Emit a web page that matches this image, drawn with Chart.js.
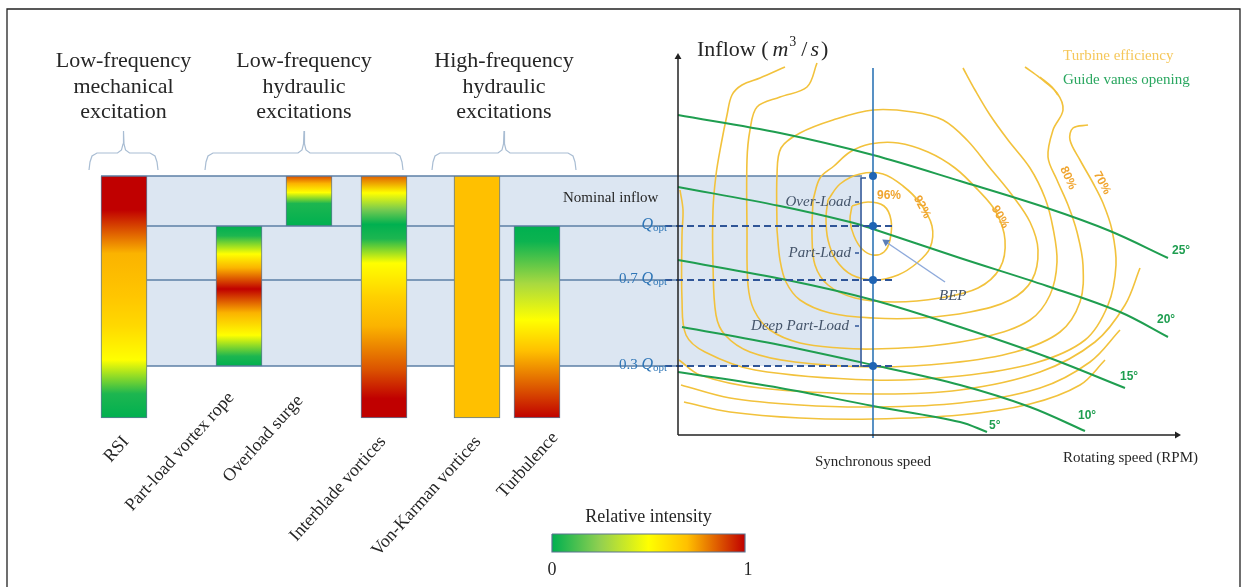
<!DOCTYPE html>
<html>
<head>
<meta charset="utf-8">
<script src="https://cdn.jsdelivr.net/npm/chart.js@4.4.1/dist/chart.umd.min.js"></script>
<style>
  html, body { margin: 0; padding: 0; background: #fff; }
  canvas { display: block; }
</style>
</head>
<body>
<canvas id="chart" width="1247" height="587"></canvas>
<script>
// ---- data (chart units follow the drawing's own layout) ----
const categories = ['RSI', 'Part-load vortex rope', 'Overload surge', 'Interblade vortices', 'Von-Karman vortices', 'Turbulence'];
const barCenter = [124, 239, 309, 384, 477, 537];
const barTop = [176, 226, 176, 176, 176, 226];
const barBottom = [418, 366, 226, 418, 418, 418];
// relative intensity along each bar, from top to bottom: [position, intensity]
const barIntensity = [
  [[0, 1], [0.14, 1], [0.32, 0.72], [0.5, 0.68], [0.62, 0.62], [0.76, 0.5], [0.9, 0.05], [1, 0]],
  [[0, 0], [0.07, 0.05], [0.2, 0.5], [0.3, 0.72], [0.45, 1], [0.62, 0.72], [0.78, 0.5], [0.93, 0.05], [1, 0]],
  [[0, 0.88], [0.15, 0.72], [0.33, 0.5], [0.55, 0.05], [1, 0]],
  [[0, 0.85], [0.07, 0.5], [0.14, 0.2], [0.2, 0], [0.26, 0.05], [0.36, 0.5], [0.5, 0.65], [0.62, 0.72], [0.8, 0.87], [0.92, 1], [1, 1]],
  [[0, 0.7], [1, 0.7]],
  [[0, 0], [0.08, 0.02], [0.3, 0.3], [0.49, 0.5], [0.65, 0.7], [0.85, 0.87], [1, 1]]
];

// inflow levels: nominal, Qopt, 0.7 Qopt, 0.3 Qopt
const flowLevels = [176, 226, 280, 366];
const syncSpeed = 873;
const zoneNames = ['Over-Load', 'Part-Load', 'Deep Part-Load'];

// guide vane opening curves
const gvLabels = ['25°', '20°', '15°', '10°', '5°'];
const gv25 = [[678, 115], [780, 133], [873, 155], [960, 181], [1047, 208], [1110, 231], [1168, 258]];
const gv20 = [[678, 187], [780, 206], [850, 222], [873, 229], [960, 258], [1047, 286], [1120, 312], [1168, 337]];
const gv15 = [[678, 260], [787, 280], [873, 300], [960, 327], [1047, 357], [1125, 388]];
const gv10 = [[682, 327], [780, 345], [873, 365], [960, 385], [1030, 407], [1085, 431]];
const gv5 = [[678, 372], [780, 388], [873, 406], [960, 422], [987, 432]];

// turbine efficiency contours
const effLabels = ['96%', '92%', '90%', '80%', '70%'];
const eff96 = [[852, 206], [868, 202], [884, 206], [891, 220], [890, 240], [884, 252], [873, 255], [862, 249], [854, 236], [850, 220], [852, 206]];
const eff92 = [[828, 200], [840, 184], [860, 174], [883, 174], [903, 186], [920, 203], [932, 226], [930, 248], [917, 263], [898, 275], [875, 280], [852, 275], [836, 260], [828, 240], [826, 218], [828, 200]];
const eff91 = [[813, 200], [820, 178], [834, 166], [850, 152], [870, 144], [898, 143], [928, 152], [955, 168], [978, 190], [996, 212], [1005, 240], [1000, 268], [978, 288], [940, 298], [895, 302], [855, 298], [828, 285], [815, 265], [812, 235], [813, 200]];
const eff90 = [[777, 230], [777, 175], [781, 148], [800, 133], [833, 120], [873, 110], [913, 112], [943, 120], [967, 140], [990, 168], [1012, 195], [1030, 222], [1038, 250], [1032, 280], [1010, 300], [970, 312], [920, 318], [873, 318], [830, 313], [800, 300], [786, 282], [780, 260], [777, 230]];
const eff85 = [[817, 63], [807, 87], [780, 97], [757, 107], [750, 130], [747, 160], [747, 230], [748, 285], [754, 310], [770, 330], [800, 343], [840, 348], [873, 349], [930, 346], [985, 337], [1030, 320], [1050, 295], [1057, 262], [1053, 228], [1045, 198], [1030, 168], [1008, 140], [990, 115], [975, 90], [963, 68]];
const eff80 = [[785, 67], [760, 78], [742, 85], [732, 95], [727, 115], [721, 145], [716, 175], [713, 210], [713, 265], [716, 315], [725, 335], [750, 352], [795, 362], [873, 367], [950, 363], [1015, 352], [1060, 332], [1080, 302], [1083, 265], [1077, 232], [1068, 205], [1057, 180], [1048, 157], [1053, 130], [1063, 110], [1057, 93], [1040, 78], [1025, 67]];
const eff80b = [[1040, 77], [1052, 87], [1058, 95]];
const eff70 = [[680, 190], [683, 210], [682, 235], [682, 300], [686, 335], [705, 352], [755, 370], [873, 380], [960, 376], [1035, 363], [1085, 340], [1108, 305], [1116, 265], [1112, 230], [1103, 203], [1093, 183], [1080, 160], [1070, 140], [1073, 128], [1088, 125]];
const eff60 = [[679, 360], [700, 375], [760, 388], [873, 394], [960, 390], [1040, 372], [1095, 342], [1125, 305], [1140, 268]];
const eff50 = [[681, 385], [730, 398], [800, 405], [873, 407], [960, 403], [1040, 388], [1090, 362], [1120, 330]];
const eff40 = [[684, 402], [730, 412], [800, 418], [873, 419], [960, 415], [1030, 404], [1080, 385], [1105, 360]];

// colour scale for relative intensity 0..1
const scaleStops = [[0, [0, 176, 80]], [0.25, [146, 208, 80]], [0.5, [255, 255, 0]], [0.7, [255, 192, 0]], [1, [192, 0, 0]]];

// ---- helpers ----
const serif = '"Liberation Serif", "Times New Roman", serif';
const sans = '"Liberation Sans", Arial, sans-serif';
const yellowLine = '#f2c23c';
const greenLine = '#1f9e50';
const blueLine = '#2e75b6';
const darkBlue = '#2f5597';

function intensityColor(v) {
  for (let i = 1; i < scaleStops.length; i++) {
    const [p1, c1] = scaleStops[i];
    const [p0, c0] = scaleStops[i - 1];
    if (v <= p1) {
      const t = (v - p0) / (p1 - p0);
      const c = c0.map((a, k) => Math.round(a + (c1[k] - a) * t));
      return 'rgb(' + c.join(',') + ')';
    }
  }
  return 'rgb(192,0,0)';
}

const pts = arr => arr.map(([x, y]) => ({ x, y }));

function lineSet(data, color, width, extra) {
  return Object.assign({
    type: 'line', data: pts(data), borderColor: color, borderWidth: width,
    pointRadius: 0, tension: 0.35, fill: false, order: 6
  }, extra || {});
}

function bracePoints(x0, x1, yTip, yMid, yEnd) {
  const c = (x0 + x1) / 2;
  return [[x0, yEnd], [x0 + 1, yEnd - 8], [x0 + 3, yMid + 3], [x0 + 8, yMid], [c - 6, yMid], [c - 2, yMid - 3], [c - 0.5, yMid - 9], [c, yTip],
          [c + 0.5, yMid - 9], [c + 2, yMid - 3], [c + 6, yMid], [x1 - 8, yMid], [x1 - 3, yMid + 3], [x1 - 1, yEnd - 8], [x1, yEnd]];
}

const headers = [
  { lines: ['Low-frequency', 'mechanical', 'excitation'], from: 89, to: 158 },
  { lines: ['Low-frequency', 'hydraulic', 'excitations'], from: 205, to: 403 },
  { lines: ['High-frequency', 'hydraulic', 'excitations'], from: 432, to: 576 }
];

const bandRight = 862;
const axisX = 678, axisY = 435;

const datasets = [];

// blue band behind the bars
datasets.push(lineSet([[101, flowLevels[0]], [bandRight, flowLevels[0]], [bandRight, flowLevels[3]], [101, flowLevels[3]], [101, flowLevels[0]]],
  'rgba(0,0,0,0)', 0, { fill: 'shape', backgroundColor: '#dce6f2', tension: 0, order: 20 }));
// band lines
datasets.push(lineSet([[101, flowLevels[0]], [bandRight, flowLevels[0]]], '#5d7fa6', 1.5, { tension: 0, order: 19 }));
flowLevels.slice(1).forEach(f => {
  datasets.push(lineSet([[101, f], [axisX, f]], '#5d7fa6', 1.5, { tension: 0, order: 19 }));
});

// efficiency contours
[eff96, eff92, eff91, eff90, eff85, eff80, eff80b, eff70, eff60, eff50, eff40].forEach(c => {
  datasets.push(lineSet(c, yellowLine, 1.6, { order: 15 }));
});

// guide vanes
[gv25, gv20, gv15, gv10, gv5].forEach(g => {
  datasets.push(lineSet(g, greenLine, 2, { order: 12 }));
});

// dashed operating levels
flowLevels.slice(1).forEach(f => {
  datasets.push(lineSet([[665, f], [893, f]], darkBlue, 2, { tension: 0, borderDash: [7, 4], order: 10 }));
});

// operating zone bracket
datasets.push(lineSet([[866, 178], [861, 178], [861, 366], [866, 366]], darkBlue, 1.5, { tension: 0, order: 10 }));
[202, 253, 326].forEach(y => {
  datasets.push(lineSet([[855, y], [859, y]], darkBlue, 1.5, { tension: 0, order: 10 }));
});

// synchronous speed line
datasets.push(lineSet([[syncSpeed, 438], [syncSpeed, 68]], blueLine, 1.6, { tension: 0, order: 9 }));
datasets.push({
  type: 'scatter', data: flowLevels.map(f => ({ x: syncSpeed, y: f })),
  pointRadius: 4, pointBackgroundColor: '#1f64b4', pointBorderWidth: 0, order: 2
});

// BEP arrow
datasets.push(lineSet([[945, 282], [886, 242]], '#8eaadb', 1.5, {
  tension: 0, order: 3, pointRadius: [0, 4.5], pointStyle: 'triangle', pointRotation: [0, -56],
  pointBackgroundColor: '#5b7fb8', pointBorderWidth: 0
}));

// axes with arrow heads
datasets.push(lineSet([[axisX, axisY], [axisX, 57]], '#222', 1.5, {
  tension: 0, order: 4, pointRadius: [0, 4], pointStyle: 'triangle', pointRotation: [0, 0],
  pointBackgroundColor: '#222', pointBorderWidth: 0
}));
datasets.push(lineSet([[axisX, axisY], [1177, axisY]], '#222', 1.5, {
  tension: 0, order: 4, pointRadius: [0, 4], pointStyle: 'triangle', pointRotation: [0, 90],
  pointBackgroundColor: '#222', pointBorderWidth: 0
}));

// braces
headers.forEach(h => {
  datasets.push(lineSet(bracePoints(h.from, h.to, 131, 153, 170), '#a9bdd3', 1.2, { tension: 0, order: 5 }));
});

// gradients only once the scales have pixel positions
function safeGradient(chart, x0, y0, x1, y1) {
  if (![x0, y0, x1, y1].every(Number.isFinite)) return null;
  return chart.ctx.createLinearGradient(x0, y0, x1, y1);
}

// colour bar
const barL = 552, barR = 745;
datasets.push(lineSet([[barL, 534], [barR, 534], [barR, 552], [barL, 552], [barL, 534]], '#5a7590', 1.2, {
  tension: 0, order: 5, fill: 'shape',
  backgroundColor: c => {
    const x = c.chart.scales.x;
    if (!x) return '#ccc';
    const g = safeGradient(c.chart, x.getPixelForValue(barL), 0, x.getPixelForValue(barR), 0);
    if (!g) return '#ccc';
    for (let k = 0; k <= 20; k++) g.addColorStop(k / 20, intensityColor(k / 20));
    return g;
  }
}));

// excitation bars
datasets.push({
  type: 'bar',
  data: categories.map((c, i) => ({ x: barCenter[i], y: [barTop[i], barBottom[i]] })),
  barThickness: 46,
  borderColor: '#5e7a98',
  borderWidth: 1,
  borderSkipped: false,
  order: 8,
  backgroundColor: c => {
    const i = c.dataIndex;
    const y = c.chart.scales.y;
    if (!y || i === undefined) return '#ffc000';
    const g = safeGradient(c.chart, 0, y.getPixelForValue(barTop[i]), 0, y.getPixelForValue(barBottom[i]));
    if (!g) return '#ffc000';
    barIntensity[i].forEach(([p, v]) => g.addColorStop(p, intensityColor(v)));
    return g;
  }
});

// ---- text layer ----
function drawRuns(ctx, parts, x, y, align) {
  let w = 0;
  parts.forEach(p => { ctx.font = p.f; w += ctx.measureText(p.t).width + (p.gap || 0); });
  let cx = align === 'right' ? x - w : align === 'center' ? x - w / 2 : x;
  parts.forEach(p => {
    ctx.font = p.f;
    ctx.fillText(p.t, cx, y + (p.dy || 0));
    cx += ctx.measureText(p.t).width + (p.gap || 0);
  });
}

const labelAnchor = [[126, 439], [231, 395], [300, 398], [383, 439], [478, 439], [555, 435]];
const effLabelPos = [[889, 196, 0], [922, 207, 62], [1000, 217, 60], [1068, 178, 66], [1102, 183, 62]];
const gvLabelPos = [[1172, 251], [1157, 320], [1120, 377], [1078, 416], [989, 426]];
const zoneLabelPos = [[851, 202], [851, 253], [849, 326]];

const annotate = {
  id: 'annotate',
  beforeDraw(chart) {
    const ctx = chart.ctx, sx = chart.scales.x, sy = chart.scales.y;
    ctx.save();
    ctx.fillStyle = '#fff';
    ctx.fillRect(0, 0, chart.width, chart.height);
    ctx.strokeStyle = '#222';
    ctx.lineWidth = 1.3;
    ctx.beginPath();
    ctx.moveTo(sx.getPixelForValue(7), sy.getPixelForValue(587));
    ctx.lineTo(sx.getPixelForValue(7), sy.getPixelForValue(9));
    ctx.lineTo(sx.getPixelForValue(1240), sy.getPixelForValue(9));
    ctx.lineTo(sx.getPixelForValue(1240), sy.getPixelForValue(587));
    ctx.stroke();
    ctx.restore();
  },
  afterDatasetsDraw(chart) {
    const ctx = chart.ctx, sx = chart.scales.x, sy = chart.scales.y;
    const X = v => sx.getPixelForValue(v), Y = v => sy.getPixelForValue(v);
    ctx.save();
    ctx.textBaseline = 'alphabetic';

    // group headers
    ctx.fillStyle = '#262626';
    ctx.textAlign = 'center';
    ctx.font = '22px ' + serif;
    headers.forEach(h => {
      h.lines.forEach((t, k) => ctx.fillText(t, X((h.from + h.to) / 2), Y(67 + k * 25.5)));
    });

    // bar labels
    ctx.font = '18px ' + serif;
    ctx.textAlign = 'right';
    ctx.textBaseline = 'middle';
    categories.forEach((c, i) => {
      ctx.save();
      ctx.translate(X(labelAnchor[i][0]), Y(labelAnchor[i][1]));
      ctx.rotate(-48 * Math.PI / 180);
      ctx.fillText(c, 0, 0);
      ctx.restore();
    });

    // inflow level labels
    ctx.textBaseline = 'middle';
    ctx.fillStyle = '#262626';
    ctx.font = '15px ' + serif;
    ctx.textAlign = 'left';
    ctx.fillText('Nominal inflow', X(563), Y(198));
    ctx.fillStyle = blueLine;
    const qf = 'italic 16px ' + serif, sub = '11px ' + serif, nf = '15px ' + serif;
    drawRuns(ctx, [{ t: 'Q', f: qf }, { t: 'opt', f: sub, dy: 3 }], X(667), Y(flowLevels[1]) - 1, 'right');
    drawRuns(ctx, [{ t: '0.7 ', f: nf }, { t: 'Q', f: qf }, { t: 'opt', f: sub, dy: 3 }], X(667), Y(flowLevels[2]) - 1, 'right');
    drawRuns(ctx, [{ t: '0.3 ', f: nf }, { t: 'Q', f: qf }, { t: 'opt', f: sub, dy: 3 }], X(667), Y(flowLevels[3]) - 1, 'right');

    // operating zones
    ctx.fillStyle = '#44546a';
    ctx.font = 'italic 15px ' + serif;
    ctx.textAlign = 'right';
    zoneNames.forEach((z, i) => ctx.fillText(z, X(zoneLabelPos[i][0]), Y(zoneLabelPos[i][1])));
    ctx.textAlign = 'left';
    ctx.fillText('BEP', X(939), Y(296));

    // axis titles
    ctx.fillStyle = '#262626';
    ctx.textBaseline = 'alphabetic';
    const af = '22px ' + serif, ai = 'italic 22px ' + serif;
    drawRuns(ctx, [{ t: 'Inflow ', f: af }, { t: '(', f: af, gap: 4 }, { t: 'm', f: ai, gap: 1 }, { t: '3', f: '14px ' + serif, dy: -10, gap: 5 },
      { t: '/', f: af, gap: 3 }, { t: 's', f: ai, gap: 2 }, { t: ')', f: af }], X(697), Y(56), 'left');
    ctx.font = '15px ' + serif;
    ctx.textAlign = 'center';
    ctx.fillText('Synchronous speed', X(syncSpeed), Y(466));
    ctx.textAlign = 'left';
    ctx.fillText('Rotating speed (RPM)', X(1063), Y(462));

    // legend
    ctx.font = '15px ' + serif;
    ctx.fillStyle = '#f5c75a';
    ctx.fillText('Turbine efficiency', X(1063), Y(60));
    ctx.fillStyle = '#2aa760';
    ctx.fillText('Guide vanes opening', X(1063), Y(84));

    // efficiency labels
    ctx.font = 'bold 12px ' + sans;
    ctx.fillStyle = '#f0a530';
    ctx.textAlign = 'center';
    ctx.textBaseline = 'middle';
    effLabels.forEach((t, i) => {
      const [x, y, r] = effLabelPos[i];
      ctx.save();
      ctx.translate(X(x), Y(y));
      ctx.rotate(r * Math.PI / 180);
      ctx.fillText(t, 0, 0);
      ctx.restore();
    });

    // guide vane labels
    ctx.fillStyle = greenLine;
    ctx.textAlign = 'left';
    gvLabels.forEach((t, i) => ctx.fillText(t, X(gvLabelPos[i][0]), Y(gvLabelPos[i][1])));

    // colour bar titles
    ctx.fillStyle = '#262626';
    ctx.font = '18px ' + serif;
    ctx.textAlign = 'center';
    ctx.textBaseline = 'alphabetic';
    ctx.fillText('Relative intensity', X((barL + barR) / 2), Y(522));
    ctx.fillText('0', X(barL), Y(575));
    ctx.fillText('1', X(barR + 3), Y(575));
    ctx.restore();
  }
};

new Chart(document.getElementById('chart'), {
  type: 'bar',
  data: { datasets },
  options: {
    responsive: false,
    animation: false,
    devicePixelRatio: 1,
    layout: { padding: 0, autoPadding: false },
    plugins: { legend: { display: false }, tooltip: { enabled: false } },
    scales: {
      x: { type: 'linear', min: 0, max: 1247, display: false, offset: false },
      y: { type: 'linear', min: 0, max: 587, reverse: true, display: false }
    }
  },
  plugins: [annotate]
});
</script>
</body>
</html>
